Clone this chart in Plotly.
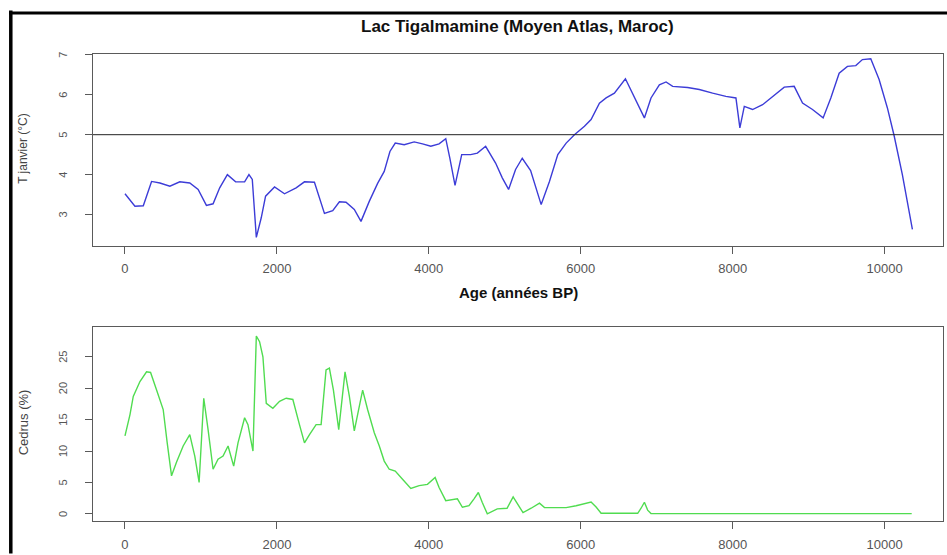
import plotly.graph_objects as go

# ---- Data ----
age_t = [0,131,241,350,460,591,722,853,963,1072,1160,1247,1348,1457,1575,1632,1676,1729,1794,1851,
         1969,2100,2253,2363,2494,2626,2735,2823,2910,3019,3107,3216,3326,3413,3488,3558,3676,3807,3917,
         4026,4135,4223,4276,4345,4433,4551,4639,4748,4879,4967,5050,5142,5230,5340,5479,5588,5698,5808,
         5917,6049,6136,6246,6334,6443,6588,6706,6838,6925,7035,7123,7210,7407,7561,7736,7911,8043,8095,
         8153,8262,8394,8525,8679,8810,8920,9051,9191,9292,9402,9511,9621,9708,9818,9928,10037,10125,
         10234,10366]
t_janvier = [3.52,3.21,3.22,3.83,3.79,3.71,3.82,3.79,3.63,3.23,3.27,3.67,4.0,3.82,3.82,4.0,3.88,2.43,
             2.92,3.46,3.69,3.52,3.67,3.82,3.81,3.03,3.1,3.32,3.31,3.13,2.83,3.33,3.78,4.08,4.58,4.79,
             4.75,4.82,4.77,4.71,4.77,4.9,4.42,3.73,4.5,4.5,4.54,4.71,4.29,3.92,3.63,4.13,4.41,4.1,3.25,
             3.83,4.5,4.79,5.0,5.21,5.38,5.79,5.92,6.04,6.4,5.92,5.42,5.92,6.25,6.32,6.21,6.18,6.13,6.04,
             5.96,5.92,5.17,5.71,5.63,5.75,5.96,6.19,6.21,5.79,5.63,5.42,5.92,6.54,6.71,6.73,6.88,6.9,
             6.38,5.67,4.98,4.0,2.63]

age_c = [0,66,109,197,284,337,416,503,556,613,678,766,853,919,976,1037,1094,1160,1225,1291,1357,1431,
         1488,1575,1619,1685,1729,1772,1816,1860,1947,2035,2122,2210,2297,2363,2429,2516,2582,2647,2691,
         2744,2814,2897,2954,3019,3076,3129,3194,3282,3348,3413,3479,3558,3654,3763,3873,3982,4083,4135,
         4223,4376,4442,4529,4595,4652,4704,4770,4901,5030,5110,5172,5240,5347,5457,5523,5632,5808,5939,
         6049,6136,6202,6268,6421,6597,6750,6794,6838,6881,6925,7500,8200,9000,9700,10357]
cedrus = [12.4,15.8,18.7,21.05,22.6,22.5,19.7,16.6,11.3,6.05,8.2,10.8,12.6,9.2,5.0,18.4,13.4,7.1,8.7,
          9.2,10.8,7.6,11.3,15.3,14.2,10.0,28.3,27.4,25.0,17.6,16.8,17.9,18.4,18.2,14.2,11.3,12.6,14.2,
          14.2,22.9,23.2,19.7,13.4,22.6,18.7,13.2,16.6,19.7,16.6,12.9,10.8,8.4,7.1,6.8,5.5,4.05,4.5,4.7,
          5.8,4.2,2.1,2.4,1.05,1.3,2.4,3.4,1.8,0.0,0.8,0.9,2.7,1.5,0.2,0.9,1.7,1.0,1.0,1.0,1.3,1.6,1.9,
          1.1,0.1,0.1,0.1,0.1,0.9,1.85,0.6,0.05,0.05,0.05,0.05,0.05,0.05]

x_ticks = [0, 2000, 4000, 6000, 8000, 10000]
t_ticks = [3, 4, 5, 6, 7]
c_ticks = [0, 5, 10, 15, 20, 25]
ref_temp = 5

title_text = "Lac Tigalmamine (Moyen Atlas, Maroc)"
xlabel_text = "Age (années BP)"
ylabel_top = "T janvier (°C)"
ylabel_bot = "Cedrus (%)"

# ---- Figure ----
W, H = 947, 555
L, R, T, B = 93, 3, 54, 28
pw, ph = W - L - R, H - T - B

def px_x(p):
    return (p - L) / pw

def px_y(p):
    return (H - B - p) / ph

fig = go.Figure()
fig.add_trace(go.Scatter(x=age_t, y=t_janvier, mode="lines",
                         line=dict(color="rgb(60,60,215)", width=1.4),
                         xaxis="x", yaxis="y", showlegend=False))
fig.add_trace(go.Scatter(x=age_c, y=cedrus, mode="lines",
                         line=dict(color="rgb(80,220,80)", width=1.4),
                         xaxis="x2", yaxis="y2", showlegend=False))

font_family = "Liberation Sans, Arial, sans-serif"
tickfont_x = dict(family=font_family, size=13, color="#555")
tickfont_y = dict(family=font_family, size=11, color="#555")
axis_common = dict(showline=True, mirror=True, linecolor="#5a5a5a", linewidth=1,
                   showgrid=False, zeroline=False, ticks="outside", ticklen=7,
                   tickcolor="#5a5a5a", tickwidth=1)

fig.update_layout(
    width=W, height=H,
    margin=dict(l=L, r=R, t=T, b=B),
    paper_bgcolor="white", plot_bgcolor="white",
    xaxis=dict(domain=[0, 1], anchor="y", range=[-421, 10769], tickvals=x_ticks,
               ticktext=[str(v) for v in x_ticks], tickfont=tickfont_x,
               ticklabelstandoff=4, **axis_common),
    yaxis=dict(domain=[px_y(248), 1], anchor="x", range=[2.225, 7.02], tickvals=t_ticks,
               showticklabels=False, **axis_common),
    xaxis2=dict(domain=[0, 1], anchor="y2", range=[-421, 10769], tickvals=x_ticks,
                ticktext=[str(v) for v in x_ticks], tickfont=tickfont_x,
                ticklabelstandoff=4, **axis_common),
    yaxis2=dict(domain=[0, px_y(330.7)], anchor="x2", range=[-1.13, 29.7], tickvals=c_ticks,
                showticklabels=False, **axis_common),
)

# rotated y tick labels (R style, parallel to the axis), placed on the axis scale
for v in t_ticks:
    fig.add_annotation(x=px_x(63), y=v, xref="paper", yref="y", text=str(v), showarrow=False,
                       textangle=-90, xanchor="center", yanchor="middle", font=tickfont_y)
for v in c_ticks:
    fig.add_annotation(x=px_x(63), y=v, xref="paper", yref="y2", text=str(v), showarrow=False,
                       textangle=-90, xanchor="center", yanchor="middle", font=tickfont_y)

# reference line at 5 °C
fig.add_shape(type="line", xref="x domain", yref="y", x0=0, x1=1, y0=ref_temp, y1=ref_temp,
              line=dict(color="#222", width=1))

# outer frame (left and top)
fig.add_shape(type="line", xref="paper", yref="paper", x0=px_x(10.7), x1=px_x(10.7),
              y0=px_y(10), y1=px_y(560), line=dict(color="black", width=3.5))
fig.add_shape(type="line", xref="paper", yref="paper", x0=px_x(9), x1=px_x(950),
              y0=px_y(12.5), y1=px_y(12.5), line=dict(color="black", width=3))

fig.add_annotation(x=px_x(518), y=px_y(26), xref="paper", yref="paper", text="<b>%s</b>" % title_text,
                   showarrow=False, xanchor="center", yanchor="middle",
                   font=dict(family=font_family, size=17, color="#111"))
fig.add_annotation(x=px_x(519), y=px_y(296), xref="paper", yref="paper", text="<b>%s</b>" % xlabel_text,
                   showarrow=False, xanchor="center", yanchor="middle",
                   font=dict(family=font_family, size=15, color="#111"))
fig.add_annotation(x=px_x(23), y=px_y(150), xref="paper", yref="paper", text=ylabel_top,
                   showarrow=False, textangle=-90, xanchor="center", yanchor="middle",
                   font=dict(family=font_family, size=12, color="#444"))
fig.add_annotation(x=px_x(23), y=px_y(427), xref="paper", yref="paper", text=ylabel_bot,
                   showarrow=False, textangle=-90, xanchor="center", yanchor="middle",
                   font=dict(family=font_family, size=13, color="#444"))

fig.write_html("out.html")
